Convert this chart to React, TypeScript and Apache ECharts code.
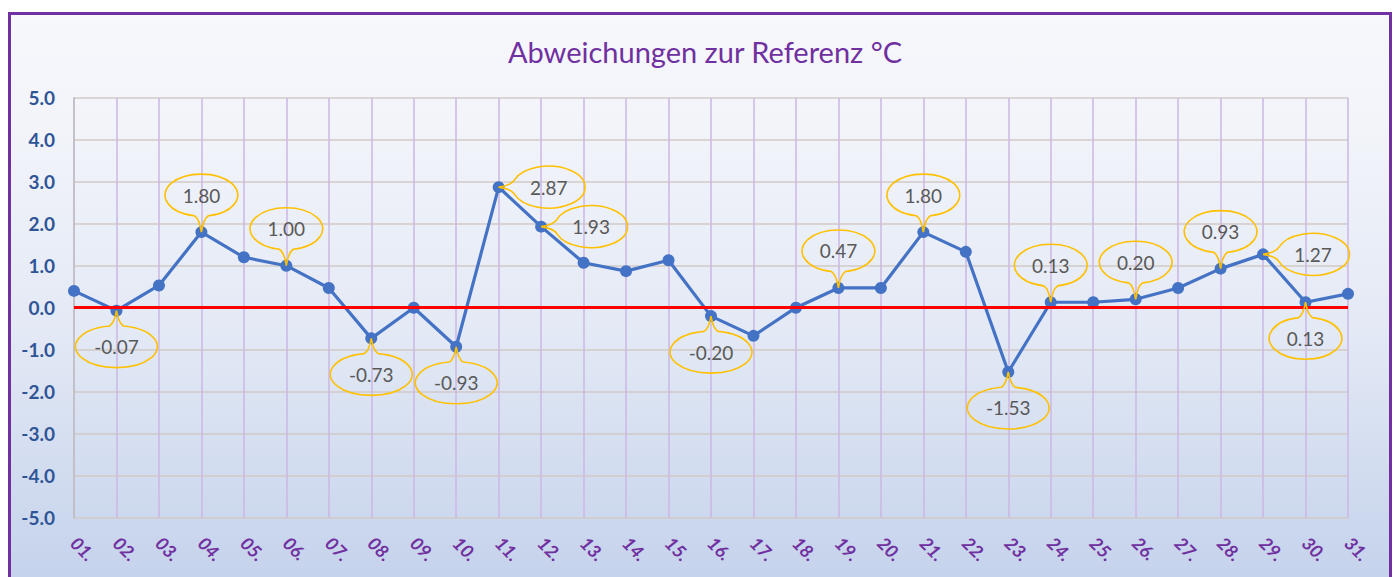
import React, { useEffect, useRef } from "react";
import * as echarts from "echarts";

const days = [
  "01.", "02.", "03.", "04.", "05.", "06.", "07.", "08.", "09.", "10.",
  "11.", "12.", "13.", "14.", "15.", "16.", "17.", "18.", "19.", "20.",
  "21.", "22.", "23.", "24.", "25.", "26.", "27.", "28.", "29.", "30.", "31.",
];

const deviations = [
  0.4, -0.07, 0.53, 1.8, 1.2, 1.0, 0.47, -0.73, 0.0, -0.93,
  2.87, 1.93, 1.07, 0.87, 1.13, -0.2, -0.67, 0.0, 0.47, 0.47,
  1.8, 1.33, -1.53, 0.13, 0.13, 0.2, 0.47, 0.93, 1.27, 0.13, 0.33,
];

const calloutDays = [
  "02.", "04.", "06.", "08.", "10.", "11.", "12.", "16.",
  "19.", "21.", "23.", "24.", "26.", "28.", "29.", "30.",
];
const calloutPlacement = [
  "below", "above", "above", "below", "below", "right", "right", "below",
  "above", "above", "below", "above", "above", "above", "right", "below",
];

const yMin = -5;
const yMax = 5;
const yStep = 1;
const titleText = "Abweichungen zur Referenz °C";
const referenceValue = 0;

const placementCode: Record<string, number> = { above: 0, below: 1, right: 2 };

export default function App() {
  const ref = useRef<HTMLDivElement>(null);

  useEffect(() => {
    if (!ref.current) return;
    const chart = echarts.init(ref.current, null, { renderer: "svg" });

    const calloutData = calloutDays.map((d, i) => {
      const idx = days.indexOf(d);
      return [idx, deviations[idx], placementCode[calloutPlacement[i]]];
    });

    const renderCallout = (params: any, api: any) => {
      const value = api.value(1) as number;
      const code = api.value(2) as number;
      const p = api.coord([api.value(0), value]);
      const px = p[0];
      const py = p[1];
      const text = value.toFixed(2);
      const rx = 18 + text.length * 4.6;
      const ry = 21;
      const h = 7;
      let cx = px;
      let cy = py;
      let d = "";
      if (code === 0) {
        cy = py - 37;
        const yb = cy + ry * Math.sqrt(1 - (h / rx) * (h / rx));
        d = `M ${cx - h} ${yb} A ${rx} ${ry} 0 1 1 ${cx + h} ${yb} Q ${cx + 2} ${yb + 3} ${px} ${py} Q ${cx - 2} ${yb + 3} ${cx - h} ${yb} Z`;
      } else if (code === 1) {
        cy = py + 36;
        const yt = cy - ry * Math.sqrt(1 - (h / rx) * (h / rx));
        d = `M ${cx + h} ${yt} A ${rx} ${ry} 0 1 1 ${cx - h} ${yt} Q ${cx - 2} ${yt - 3} ${px} ${py} Q ${cx + 2} ${yt - 3} ${cx + h} ${yt} Z`;
      } else {
        cx = px + 50;
        cy = py;
        const xl = cx - rx * Math.sqrt(1 - (h / ry) * (h / ry));
        d = `M ${xl} ${cy - h} A ${rx} ${ry} 0 1 1 ${xl} ${cy + h} Q ${xl - 3} ${cy + 2} ${px} ${py} Q ${xl - 3} ${cy - 2} ${xl} ${cy - h} Z`;
      }
      return {
        type: "group",
        children: [
          {
            type: "path",
            shape: { pathData: d },
            style: { fill: "none", stroke: "#ffc000", lineWidth: 1.6 },
          },
          {
            type: "text",
            style: {
              text,
              x: cx,
              y: cy,
              align: "center",
              verticalAlign: "middle",
              fill: "#595959",
              font: "19px Lato, 'Noto Sans', sans-serif",
            },
          },
        ],
      };
    };

    chart.setOption({
      animation: false,
      graphic: [
        {
          type: "rect",
          z: -10,
          silent: true,
          shape: { x: 9.5, y: 13.5, width: 1381, height: 580 },
          style: {
            fill: new echarts.graphic.LinearGradient(0, 0, 0, 1, [
              { offset: 0, color: "#f7f8fc" },
              { offset: 0.2, color: "#f2f4fa" },
              { offset: 0.55, color: "#e3e9f5" },
              { offset: 1, color: "#c3d1eb" },
            ]),
            stroke: "#7030a0",
            lineWidth: 3,
          },
        },
      ],
      title: {
        text: titleText,
        left: 700,
        top: 32,
        textAlign: "center",
        textStyle: {
          color: "#7030a0",
          fontFamily: "Lato, 'Noto Sans', sans-serif",
          fontSize: 29,
          fontWeight: "normal",
        },
      },
      grid: {
        left: 74,
        right: 50,
        top: 97.7,
        bottom: 59.3,
        containLabel: false,
      },
      xAxis: {
        type: "category",
        data: days,
        boundaryGap: false,
        axisLine: { show: false },
        axisTick: { show: false },
        axisLabel: {
          rotate: -45,
          margin: 22,
          interval: 0,
          color: "#7030a0",
          fontFamily: "Lato, 'Noto Sans', sans-serif",
          fontSize: 18,
          fontWeight: "bold",
          fontStyle: "italic",
        },
        splitLine: {
          show: true,
          interval: 0,
          lineStyle: { color: "#cbb7e4", width: 1.5 },
        },
      },
      yAxis: {
        type: "value",
        min: yMin,
        max: yMax,
        interval: yStep,
        axisLine: { show: true, lineStyle: { color: "#bfbfbf", width: 1.5 } },
        axisTick: { show: false },
        axisLabel: {
          margin: 19,
          color: "#2f5597",
          fontFamily: "Lato, 'Noto Sans', sans-serif",
          fontSize: 19,
          fontWeight: "bold",
          formatter: (v: number) => v.toFixed(1),
        },
        splitLine: {
          show: true,
          lineStyle: { color: "#d2cac6", width: 1.5 },
        },
      },
      series: [
        {
          type: "line",
          data: [],
          z: 1,
          silent: true,
          markLine: {
            silent: true,
            symbol: ["none", "none"],
            label: { show: false },
            lineStyle: { color: "#ff0000", width: 3, type: "solid" },
            data: [{ yAxis: referenceValue }],
          },
        },
        {
          type: "line",
          data: deviations,
          z: 3,
          symbol: "circle",
          symbolSize: 12,
          lineStyle: { color: "#4472c4", width: 3.2 },
          itemStyle: { color: "#4472c4" },
        },
        {
          type: "custom",
          z: 5,
          data: calloutData,
          renderItem: renderCallout,
          encode: { x: 0, y: 1 },
        },
      ],
    });

    return () => chart.dispose();
  }, []);

  return (
    <div
      ref={ref}
      style={{ position: "absolute", left: 0, top: 0, width: 1398, height: 577 }}
    />
  );
}
